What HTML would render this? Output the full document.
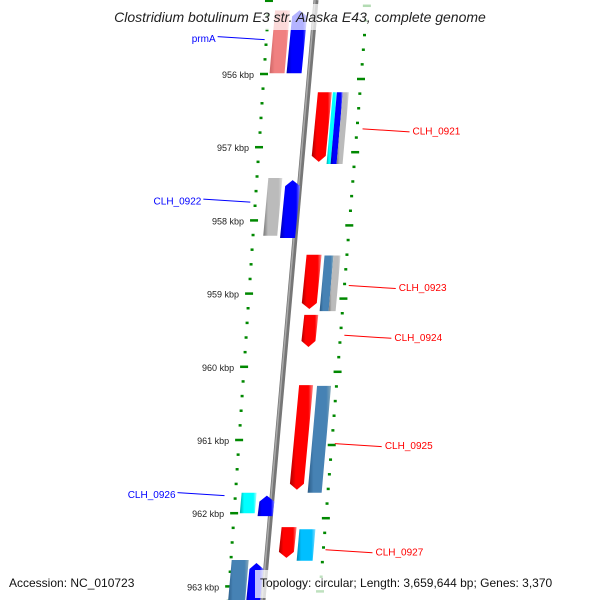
<!DOCTYPE html>
<html><head><meta charset="utf-8"><style>
body{margin:0;background:#fff}
svg{display:block;font-family:"Liberation Sans","DejaVu Sans",sans-serif}
</style></head><body>
<svg id="c" width="600" height="600" viewBox="0 0 600 600">
<defs>
<linearGradient id="g-red" x1="0" x2="1"><stop offset="0" stop-color="#a00"/><stop offset="0.25" stop-color="#f00"/><stop offset="0.8" stop-color="#f00"/><stop offset="1" stop-color="#f88"/></linearGradient>
<linearGradient id="g-blue" x1="0" x2="1"><stop offset="0" stop-color="#00a"/><stop offset="0.25" stop-color="#00f"/><stop offset="0.8" stop-color="#00f"/><stop offset="1" stop-color="#88f"/></linearGradient>
<linearGradient id="g-grey" x1="0" x2="1"><stop offset="0" stop-color="#777"/><stop offset="0.25" stop-color="#bbb"/><stop offset="0.8" stop-color="#bbb"/><stop offset="1" stop-color="#ddd"/></linearGradient>
<linearGradient id="g-steel" x1="0" x2="1"><stop offset="0" stop-color="#2a5a85"/><stop offset="0.25" stop-color="#4682b4"/><stop offset="0.8" stop-color="#4682b4"/><stop offset="1" stop-color="#8ab"/></linearGradient>
<linearGradient id="g-cyan" x1="0" x2="1"><stop offset="0" stop-color="#0aa"/><stop offset="0.25" stop-color="#0ff"/><stop offset="0.8" stop-color="#0ff"/><stop offset="1" stop-color="#aff"/></linearGradient>
<linearGradient id="g-sky" x1="0" x2="1"><stop offset="0" stop-color="#0088b0"/><stop offset="0.25" stop-color="#00bfff"/><stop offset="0.8" stop-color="#00bfff"/><stop offset="1" stop-color="#8df"/></linearGradient>
<linearGradient id="g-pink" x1="0" x2="1"><stop offset="0" stop-color="#c66"/><stop offset="0.25" stop-color="#f08080"/><stop offset="0.8" stop-color="#f08080"/><stop offset="1" stop-color="#fbb"/></linearGradient>
</defs>
<g id="ticks"></g>
<line x1="316" y1="0" x2="263" y2="600" stroke="#777" stroke-width="5"/>
<line x1="315" y1="0" x2="262" y2="600" stroke="#aaa" stroke-width="1.5"/>
<g id="genes"></g>
<g id="labels"></g>
<rect x="88" y="4" width="424" height="26" fill="#fff" fill-opacity="0.7"/>
<text x="300" y="22" text-anchor="middle" font-size="14" font-style="italic" fill="#222">Clostridium botulinum E3 str. Alaska E43, complete genome</text>
<text x="9" y="587" font-size="12" fill="#111">Accession: NC_010723</text>
<rect x="255" y="570" width="345" height="28" fill="#fff" fill-opacity="0.75"/>
<text x="260" y="587" font-size="12" fill="#111">Topology: circular; Length: 3,659,644 bp; Genes: 3,370</text>
</svg>
<script>
const kbpTicks=[956,957,958,959,960,961,962,963];
const geneStart=[955.13,955.13,956.25,956.25,956.25,956.25,957.42,957.45,958.47,958.48,958.48,959.29,960.25,960.26,961.72,961.76,962.19,962.22,962.64,962.68];
const geneEnd=[955.99,955.99,957.20,957.23,957.23,957.23,958.21,958.24,959.21,959.24,959.24,959.73,961.68,961.72,962.0,962.04,962.61,962.65,963.3,963.3];
const geneColor=["pink","blue","red","cyan","blue","grey","grey","blue","red","steel","grey","red","red","steel","cyan","blue","red","sky","steel","blue"];
const geneDir=[0,1,-1,0,0,0,0,1,-1,0,0,-1,-1,0,0,1,-1,0,0,1];
const labelNames=["prmA","CLH_0921","CLH_0922","CLH_0923","CLH_0924","CLH_0925","CLH_0926","CLH_0927"];
const labelKbp=[955.51,956.77,957.73,958.91,959.59,961.07,961.74,962.52];
const labelSide=[-1,1,-1,1,1,1,-1,1];
</script>
<script>
const NS="http://www.w3.org/2000/svg";
const y0=74, pxPerKbp=73.2, slope=0.088;
function Y(k){return y0+(k-956)*pxPerKbp;}
function mk(t,a,p){const e=document.createElementNS(NS,t);for(const k in a)e.setAttribute(k,a[k]);p.appendChild(e);return e;}
const tg=document.getElementById('ticks');
for(let k=955;k<=963.6;k+=0.2){
  const y=Y(k); if(y<-5||y>605)continue;
  const major=Math.abs(k-Math.round(k))<0.01;
  const xl=264-0.068*(y-74);
  const w=major?8:3;
  const a=mk('line',{x1:xl-w/2,y1:y,x2:xl+w/2,y2:y,stroke:'#080','stroke-width':2.5},tg);
  
  
  const yr=y+5, xr=355-0.08*(yr-154);
  const b=mk('line',{x1:xr-w/2,y1:yr,x2:xr+w/2,y2:yr,stroke:'#080','stroke-width':2.5},tg);
  
  
}
kbpTicks.forEach(k=>{
  const y=Y(k), xl=264-0.068*(y-74);
  const t=mk('text',{x:xl-10,y:y+4,'font-size':9,'text-anchor':'end',fill:'#222'},tg);
  t.textContent=k+' kbp';
  
  
});
// track geometry (offset from backbone, width) per gene — layout, not data
const trackOff=[-40,-23,10,25,29,35,-32,-15,13,31,40,16,17,35,-31,-13,12,30,-35,-17];
const trackW=[15,15,14,4,6,6,14,15,15,9,7,14,14,14,15,15,15,16,17,14];
const gg=document.getElementById('genes');
const bx=y=>316-slope*y;
geneStart.forEach((s,i)=>{
  const yt=Y(s), yb=Y(geneEnd[i]);
  const off=trackOff[i], w=trackW[i];
  const p1=[bx(yt)+off,yt],p2=[bx(yt)+off+w,yt],p3=[bx(yb)+off+w,yb],p4=[bx(yb)+off,yb];
  let pts;
  const d=geneDir[i];
  if(d===1){const m=[bx(yt)+off+w/2,yt];pts=[m,[p2[0],yt+6],p3,p4,[p1[0],yt+6]];}
  else if(d===-1){const m=[bx(yb)+off+w/2,yb];pts=[p1,p2,[p3[0],yb-6],m,[p4[0],yb-6]];}
  else pts=[p1,p2,p3,p4];
  const g=mk('polygon',{points:pts.map(p=>p.join(',')).join(' '),fill:'url(#g-'+geneColor[i]+')'},gg);
  
  
});
const lg=document.getElementById('labels');
labelNames.forEach((n,i)=>{
  const y=Y(labelKbp[i]);
  const side=labelSide[i];
  const col=side<0?'#00f':'#f00';
  const b=bx(y);
  let x1,x2,tx;
  if(side<0){x2=b-48;x1=x2-47;tx=x1-2;}
  else{x1=b+58;x2=x1+47;tx=x2+3;}
  const ln=mk('line',{x1:x1,y1:y-1.5,x2:x2,y2:y+1.5,stroke:col,'stroke-width':1},lg);
  
  
  const t=mk('text',{x:tx,y:y+4,'font-size':10,fill:col,'text-anchor':side<0?'end':'start'},lg);
  t.textContent=n;
  
  
});
</script>
</body></html>
